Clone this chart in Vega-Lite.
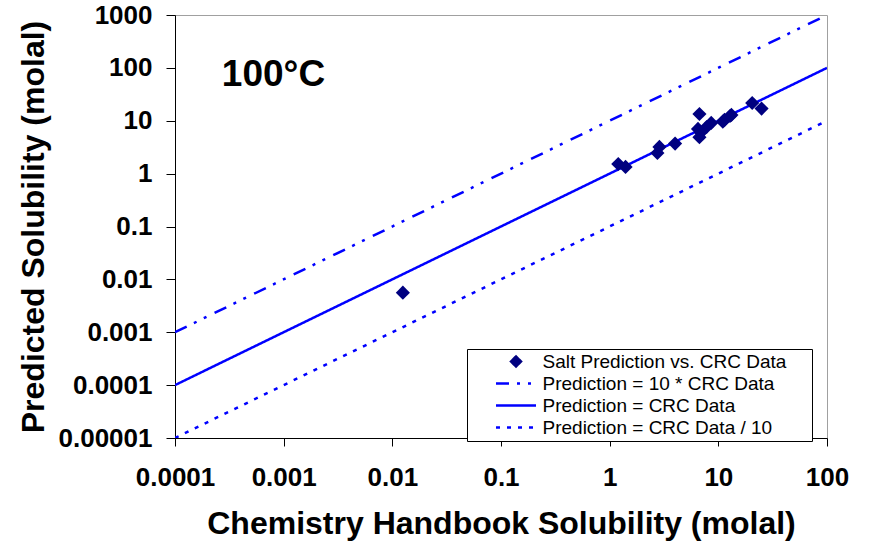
{
  "$schema": "https://vega.github.io/schema/vega-lite/v6.json",
  "width": 652,
  "height": 423,
  "autosize": "none",
  "padding": {"left": 175, "top": 15, "right": 42, "bottom": 107},
  "background": "white",
  "config": {
    "font": "Liberation Sans",
    "view": {"stroke": "#A0A0A0", "strokeWidth": 1},
    "axis": {
      "grid": false,
      "domainColor": "black",
      "domainWidth": 1,
      "tickColor": "black",
      "tickWidth": 1,
      "labelFlush": false,
      "labelOverlap": false,
      "labelFont": "Liberation Sans",
      "labelFontWeight": "bold",
      "labelFontSize": 26,
      "labelColor": "black",
      "titleFont": "Liberation Sans",
      "titleFontWeight": "bold",
      "titleFontSize": 32,
      "titleColor": "black"
    }
  },
  "datasets": {
    "salts": [
      {"series": "Salt Prediction vs. CRC Data", "crc": 0.0125, "pred": 0.0056},
      {"series": "Salt Prediction vs. CRC Data", "crc": 1.2, "pred": 1.52},
      {"series": "Salt Prediction vs. CRC Data", "crc": 1.4, "pred": 1.34},
      {"series": "Salt Prediction vs. CRC Data", "crc": 2.75, "pred": 2.46},
      {"series": "Salt Prediction vs. CRC Data", "crc": 2.87, "pred": 3.2},
      {"series": "Salt Prediction vs. CRC Data", "crc": 4.0, "pred": 3.7},
      {"series": "Salt Prediction vs. CRC Data", "crc": 6.7, "pred": 13.4},
      {"series": "Salt Prediction vs. CRC Data", "crc": 6.5, "pred": 7.0},
      {"series": "Salt Prediction vs. CRC Data", "crc": 6.7, "pred": 4.9},
      {"series": "Salt Prediction vs. CRC Data", "crc": 6.9, "pred": 6.0},
      {"series": "Salt Prediction vs. CRC Data", "crc": 7.8, "pred": 7.6},
      {"series": "Salt Prediction vs. CRC Data", "crc": 8.6, "pred": 9.1},
      {"series": "Salt Prediction vs. CRC Data", "crc": 11.0, "pred": 9.6},
      {"series": "Salt Prediction vs. CRC Data", "crc": 11.4, "pred": 10.4},
      {"series": "Salt Prediction vs. CRC Data", "crc": 12.8, "pred": 12.3},
      {"series": "Salt Prediction vs. CRC Data", "crc": 13.2, "pred": 12.9},
      {"series": "Salt Prediction vs. CRC Data", "crc": 20.5, "pred": 21.7},
      {"series": "Salt Prediction vs. CRC Data", "crc": 25, "pred": 17}
    ],
    "reference": [
      {"series": "Prediction = 10 * CRC Data", "crc": 0.0001, "pred": 0.001},
      {"series": "Prediction = 10 * CRC Data", "crc": 100, "pred": 1000},
      {"series": "Prediction = CRC Data", "crc": 0.0001, "pred": 0.0001},
      {"series": "Prediction = CRC Data", "crc": 100, "pred": 100},
      {"series": "Prediction = CRC Data / 10", "crc": 0.0001, "pred": 0.00001},
      {"series": "Prediction = CRC Data / 10", "crc": 100, "pred": 10}
    ],
    "heading": [{"label": "100°C"}]
  },
  "layer": [
    {
      "data": {"name": "reference"},
      "mark": {"type": "line", "strokeWidth": 2.5, "strokeCap": "butt", "clip": true},
      "encoding": {
        "x": {
          "field": "crc", "type": "quantitative",
          "scale": {"type": "log", "domain": [0.0001, 100], "nice": false},
          "axis": {
            "title": "Chemistry Handbook Solubility (molal)",
            "values": [0.0001, 0.001, 0.01, 0.1, 1, 10, 100],
            "labelExpr": "format(datum.value, '~f')",
            "tickSize": 8,
            "labelPadding": 18,
            "titlePadding": 18
          }
        },
        "y": {
          "field": "pred", "type": "quantitative",
          "scale": {"type": "log", "domain": [0.00001, 1000], "nice": false},
          "axis": {
            "title": "Predicted Solubility (molal)",
            "values": [0.00001, 0.0001, 0.001, 0.01, 0.1, 1, 10, 100, 1000],
            "labelExpr": "format(datum.value, '~f')",
            "tickSize": 9,
            "labelPadding": 14,
            "titlePadding": 8
          }
        },
        "detail": {"field": "series"},
        "color": {
          "field": "series", "type": "nominal",
          "scale": {
            "domain": ["Salt Prediction vs. CRC Data", "Prediction = 10 * CRC Data", "Prediction = CRC Data", "Prediction = CRC Data / 10"],
            "range": ["#000080", "#0000FF", "#0000FF", "#0000FF"]
          },
          "legend": {
            "title": "\u00a0",
            "titleOrient": "right",
            "titlePadding": 23,
            "titleFontSize": 19,
            "orient": "none",
            "legendX": 292,
            "legendY": 334,
            "strokeColor": "black",
            "fillColor": "white",
            "padding": 3,
            "rowPadding": 2,
            "symbolSize": 100,
            "symbolStrokeWidth": 2.5,
            "symbolOffset": 36.5,
            "labelOffset": 17,
            "labelFont": "Liberation Sans",
            "labelFontSize": 19,
            "labelColor": "black",
            "labelLimit": 400
          }
        },
        "strokeDash": {
          "field": "series", "type": "nominal",
          "scale": {
            "domain": ["Salt Prediction vs. CRC Data", "Prediction = 10 * CRC Data", "Prediction = CRC Data", "Prediction = CRC Data / 10"],
            "range": [[1, 0], [13, 8, 3, 8, 3, 9], [1, 0], [4, 7]]
          },
          "legend": {
            "title": "\u00a0",
            "titleOrient": "right",
            "titlePadding": 23,
            "titleFontSize": 19,
            "orient": "none",
            "legendX": 292,
            "legendY": 334,
            "strokeColor": "black",
            "fillColor": "white",
            "padding": 3,
            "rowPadding": 2,
            "symbolSize": 100,
            "symbolStrokeWidth": 2.5,
            "symbolOffset": 36.5,
            "labelOffset": 17,
            "labelFont": "Liberation Sans",
            "labelFontSize": 19,
            "labelColor": "black",
            "labelLimit": 400
          }
        }
      }
    },
    {
      "data": {"name": "salts"},
      "mark": {"type": "point", "filled": true, "size": 200, "opacity": 1},
      "encoding": {
        "x": {"field": "crc", "type": "quantitative"},
        "y": {"field": "pred", "type": "quantitative"},
        "color": {"field": "series", "type": "nominal"},
        "shape": {
          "field": "series", "type": "nominal",
          "scale": {
            "domain": ["Salt Prediction vs. CRC Data", "Prediction = 10 * CRC Data", "Prediction = CRC Data", "Prediction = CRC Data / 10"],
            "range": ["diamond", "M-4,0H4", "M-4,0H4", "M-4,0H4"]
          },
          "legend": {
            "title": "\u00a0",
            "titleOrient": "right",
            "titlePadding": 23,
            "titleFontSize": 19,
            "orient": "none",
            "legendX": 292,
            "legendY": 334,
            "strokeColor": "black",
            "fillColor": "white",
            "padding": 3,
            "rowPadding": 2,
            "symbolSize": 100,
            "symbolStrokeWidth": 2.5,
            "symbolOffset": 36.5,
            "labelOffset": 17,
            "labelFont": "Liberation Sans",
            "labelFontSize": 19,
            "labelColor": "black",
            "labelLimit": 400
          }
        }
      }
    },
    {
      "data": {"name": "heading"},
      "mark": {"type": "text", "align": "left", "baseline": "middle", "font": "Liberation Sans", "fontWeight": "bold", "fontSize": 37, "color": "black"},
      "encoding": {
        "text": {"field": "label", "type": "nominal"},
        "x": {"datum": 0.00027, "type": "quantitative"},
        "y": {"datum": 73, "type": "quantitative"}
      }
    }
  ]
}
